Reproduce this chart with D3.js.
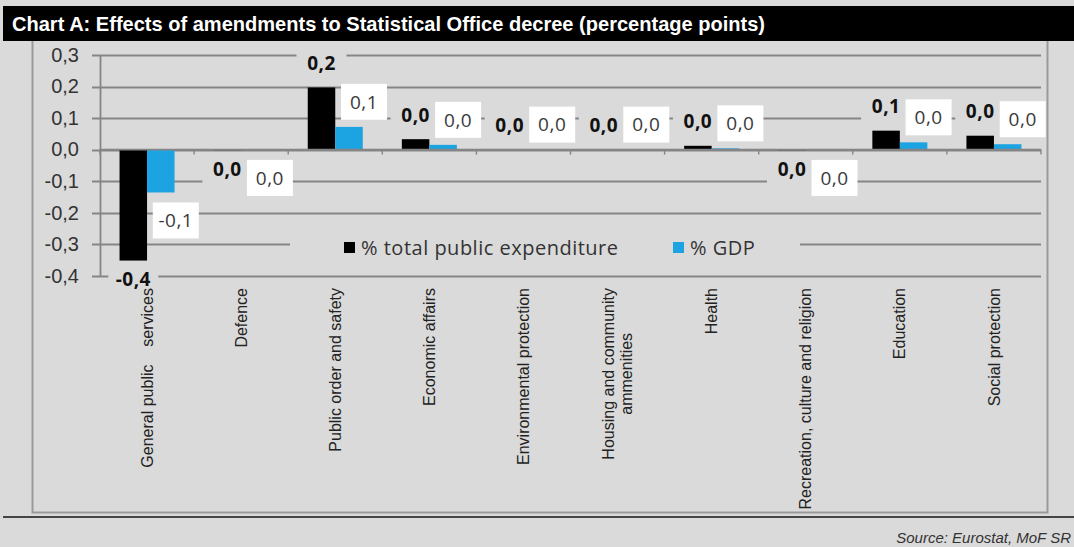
<!DOCTYPE html>
<html>
<head>
<meta charset="utf-8">
<script src="https://cdn.jsdelivr.net/npm/d3@7"></script>
<style>
  html, body { margin: 0; padding: 0; background: #dadada; }
  svg { display: block; }
  text { white-space: pre; }
</style>
</head>
<body>
<svg id="chart" width="1074" height="547"></svg>
<script>
// Spending categories (COFOG functions)
const categories = [
  "General public    services",
  "Defence",
  "Public order and safety",
  "Economic affairs",
  "Environmental protection",
  "Housing and community\nammenities",
  "Health",
  "Recreation, culture and religion",
  "Education",
  "Social protection"
];
// Effect on share of total public expenditure (p.p.)
const totalExpenditure = [-0.352, -0.002, 0.197, 0.033, 0.001, 0.001, 0.012, -0.002, 0.060, 0.044];
// Effect on share of GDP (p.p.)
const gdpShare = [-0.136, -0.001, 0.072, 0.015, 0.000, 0.000, 0.004, -0.001, 0.023, 0.017];
const seriesNames = ["% total public expenditure", "% GDP"];
const yTicks = [0.3, 0.2, 0.1, 0.0, -0.1, -0.2, -0.3, -0.4];

const titleText = "Chart A: Effects of amendments to Statistical Office decree (percentage points)";
const sourceText = "Source: Eurostat, MoF SR";

const BG = "#dadada";
const BLACK = "#000000";
const BLUE = "#1ca3e2";
const GRID = "#858585";

const locale = d3.formatLocale({ decimal: ",", thousands: ".", grouping: [3], currency: ["", ""], minus: "-" });
const fmt = locale.format(".1f");

const svg = d3.select("#chart");

// page background
svg.append("rect").attr("width", 1074).attr("height", 547).attr("fill", BG);

// title bar
svg.append("rect").attr("x", 3).attr("y", 6).attr("width", 1071).attr("height", 35).attr("fill", "#000");
svg.append("text")
  .attr("x", 12).attr("y", 31)
  .attr("fill", "#fff")
  .attr("font-family", "'Liberation Sans Narrow', 'Liberation Sans', Arial, sans-serif")
  .attr("font-weight", "bold")
  .attr("font-size", 21)
  .attr("textLength", 753)
  .attr("lengthAdjust", "spacingAndGlyphs")
  .text(titleText);

// chart frame
svg.append("path")
  .attr("d", "M32.5,41 V512.5 H1047.5 V41")
  .attr("fill", "none").attr("stroke", "#9a9a9a").attr("stroke-width", 2);
svg.append("line")
  .attr("x1", 3).attr("x2", 1074).attr("y1", 517).attr("y2", 517)
  .attr("stroke", "#444").attr("stroke-width", 2);

// source
svg.append("text")
  .attr("x", 1071).attr("y", 543)
  .attr("text-anchor", "end")
  .attr("fill", "#333")
  .attr("font-family", "'Liberation Sans', Arial, sans-serif")
  .attr("font-style", "italic")
  .attr("font-size", 15)
  .text(sourceText);

// scales
const x = d3.scaleBand().domain(d3.range(categories.length)).range([100, 1041]).paddingInner(0).paddingOuter(0);
const y = d3.scaleLinear().domain([-0.4, 0.3]).range([275.7, 55]);
const barW = 27.5;

// gridlines
svg.append("g").selectAll("line").data(yTicks).join("line")
  .attr("x1", 92).attr("x2", 1041)
  .attr("y1", d => Math.round(y(d)) + 0.5).attr("y2", d => Math.round(y(d)) + 0.5)
  .attr("stroke", GRID).attr("stroke-width", 1.8);

// y axis
const yAxis = svg.append("g").attr("transform", "translate(100,0)")
  .call(d3.axisLeft(y).tickValues(yTicks).tickFormat(fmt).tickSize(0).tickPadding(21));
yAxis.select(".domain").attr("stroke", GRID).attr("stroke-width", 1.8);
yAxis.selectAll("text")
  .attr("font-family", "'Liberation Sans', Arial, sans-serif")
  .attr("font-size", 20)
  .attr("fill", "#333");

// bars
const groups = svg.append("g").selectAll("g").data(categories).join("g");
groups.append("rect")
  .attr("x", (d, i) => x(i) + x.bandwidth() / 2 - barW)
  .attr("width", barW)
  .attr("y", (d, i) => y(Math.max(0, totalExpenditure[i])))
  .attr("height", (d, i) => Math.abs(y(totalExpenditure[i]) - y(0)))
  .attr("fill", BLACK);
groups.append("rect")
  .attr("x", (d, i) => x(i) + x.bandwidth() / 2)
  .attr("width", barW)
  .attr("y", (d, i) => y(Math.max(0, gdpShare[i])))
  .attr("height", (d, i) => Math.abs(y(gdpShare[i]) - y(0)))
  .attr("fill", BLUE);

// category axis at zero
const xAxisG = svg.append("g");
xAxisG.append("line")
  .attr("x1", 100).attr("x2", 1041).attr("y1", y(0)).attr("y2", y(0))
  .attr("stroke", GRID).attr("stroke-width", 1.8);
xAxisG.selectAll(".tk").data(d3.range(categories.length + 1)).join("line")
  .attr("class", "tk")
  .attr("x1", i => i < categories.length ? x(i) : x.range()[1])
  .attr("x2", i => i < categories.length ? x(i) : x.range()[1])
  .attr("y1", y(0)).attr("y2", y(0) + 5)
  .attr("stroke", GRID).attr("stroke-width", 1.4);

// data labels
const labelFont = "'Open Sans', Lato, sans-serif";
groups.each(function (d, i) {
  const g = d3.select(this);
  const cx = x(i) + x.bandwidth() / 2;
  // black series: bold text on a background-coloured box
  const v1 = totalExpenditure[i];
  const bx = cx - barW / 2;
  const by = v1 >= 0 ? y(v1) - 24 : y(v1) + 19;
  g.append("rect")
    .attr("x", bx - 25).attr("y", by - 14).attr("width", 50).attr("height", 28)
    .attr("fill", BG);
  g.append("text")
    .attr("x", bx).attr("y", by)
    .attr("dy", "0.35em")
    .attr("text-anchor", "middle")
    .attr("font-family", labelFont)
    .attr("font-weight", "bold")
    .attr("font-size", 19)
    .attr("letter-spacing", 0.5)
    .attr("fill", "#111")
    .text(fmt(v1));
  // blue series: regular text on a white box
  const v2 = gdpShare[i];
  const wx = cx + barW / 2 + 15;
  const wy = v2 >= 0 ? y(v2) - 25 : y(v2) + 28;
  g.append("rect")
    .attr("x", wx - 23).attr("y", wy - 18).attr("width", 46).attr("height", 36)
    .attr("fill", "#fff");
  g.append("text")
    .attr("x", wx).attr("y", wy)
    .attr("dy", "0.35em")
    .attr("text-anchor", "middle")
    .attr("font-family", labelFont)
    .attr("font-size", 19)
    .attr("letter-spacing", 0.5)
    .attr("fill", "#3a3a3a")
    .text(fmt(v2));
});

// category labels, rotated
groups.each(function (d, i) {
  const lines = d.split("\n");
  const cx = x(i) + x.bandwidth() / 2;
  const lh = 18;
  const t = d3.select(this).append("text")
    .attr("transform", `translate(${cx},288) rotate(-90)`)
    .attr("font-family", "'Liberation Sans', Arial, sans-serif")
    .attr("font-size", 16)
    .attr("fill", "#222");
  if (lines.length === 1) {
    t.attr("text-anchor", "end").append("tspan").attr("x", 0).attr("dy", "0.35em").text(lines[0]);
  } else {
    // multi-line: centre lines against the widest one
    t.attr("text-anchor", "middle");
    const tmp = t.append("tspan").text(lines[0]);
    const w = tmp.node().getComputedTextLength();
    tmp.remove();
    lines.forEach((ln, k) => {
      t.append("tspan")
        .attr("x", -w / 2)
        .attr("y", (k - (lines.length - 1) / 2) * lh)
        .attr("dy", "0.35em")
        .text(ln);
    });
  }
});

// legend
const legend = svg.append("g");
legend.append("rect").attr("x", 290).attr("y", 229).attr("width", 510).attr("height", 32).attr("fill", BG);
const legendItems = [
  { name: seriesNames[0], color: BLACK, x: 344 },
  { name: seriesNames[1], color: BLUE, x: 673 }
];
legendItems.forEach(it => {
  legend.append("rect").attr("x", it.x).attr("y", 242).attr("width", 11).attr("height", 11).attr("fill", it.color);
  legend.append("text")
    .attr("x", it.x + 17).attr("y", 248).attr("dy", "0.35em")
    .attr("font-family", labelFont)
    .attr("font-size", 20)
    .attr("letter-spacing", 0.5)
    .attr("fill", "#333")
    .text(it.name);
});
</script>
</body>
</html>
